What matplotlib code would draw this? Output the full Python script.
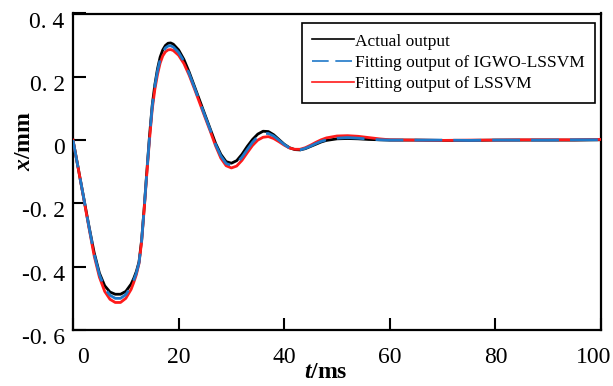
import matplotlib
matplotlib.use("Agg")
import matplotlib.pyplot as plt
from matplotlib.transforms import ScaledTranslation

plt.rcParams['font.family'] = ['Liberation Serif', 'DejaVu Serif']
plt.rcParams['mathtext.fontset'] = 'custom'
plt.rcParams['mathtext.rm'] = 'Liberation Serif'
plt.rcParams['mathtext.it'] = 'Liberation Serif:italic'
plt.rcParams['mathtext.bf'] = 'Liberation Serif:bold'
plt.rcParams['mathtext.bfit'] = 'Liberation Serif:bold:italic'

# ---- data ----
t = [0, 1, 2, 3, 4, 5, 6, 7, 8, 9, 10, 11, 11.5, 12, 12.5, 13, 13.5, 14, 14.5,
     15, 15.5, 16, 16.5, 17, 17.5, 18, 18.5, 19, 20, 21, 22, 23, 24, 25, 26, 27,
     28, 29, 30, 31, 32, 33, 34, 35, 36, 37, 38, 39, 40, 41, 42, 43, 44, 45, 46,
     47, 48, 50, 52, 54, 56, 58, 60, 65, 70, 75, 80, 85, 90, 95, 100]

actual = [0.0, -0.09, -0.18, -0.27, -0.355, -0.42, -0.46, -0.48, -0.487, -0.487,
          -0.478, -0.455, -0.437, -0.415, -0.385, -0.315, -0.21, -0.095, 0.015,
          0.11, 0.175, 0.225, 0.262, 0.285, 0.299, 0.306, 0.307, 0.303, 0.285,
          0.255, 0.215, 0.17, 0.125, 0.08, 0.035, -0.01, -0.045, -0.068, -0.073,
          -0.065, -0.045, -0.02, 0.002, 0.019, 0.028, 0.027, 0.017, 0.002, -0.013,
          -0.024, -0.03, -0.031, -0.027, -0.02, -0.013, -0.006, -0.001, 0.004,
          0.005, 0.004, 0.002, 0.001, 0.0, 0.0, -0.001, -0.001, 0.0, 0.0, 0.0,
          0.0, 0.001]

igwo = [0.0, -0.09, -0.18, -0.272, -0.36, -0.425, -0.468, -0.49, -0.5, -0.5,
        -0.488, -0.462, -0.443, -0.42, -0.388, -0.318, -0.212, -0.098, 0.01,
        0.105, 0.17, 0.218, 0.254, 0.277, 0.291, 0.297, 0.298, 0.294, 0.277,
        0.249, 0.21, 0.166, 0.121, 0.076, 0.032, -0.014, -0.05, -0.074, -0.08,
        -0.073, -0.054, -0.03, -0.007, 0.011, 0.02, 0.021, 0.013, 0.0, -0.014,
        -0.025, -0.031, -0.031, -0.026, -0.019, -0.011, -0.004, 0.001, 0.006,
        0.008, 0.006, 0.003, 0.001, 0.0, 0.0, 0.0, -0.001, 0.0, 0.0, 0.0, 0.001,
        0.001]

lssvm = [0.0, -0.09, -0.182, -0.275, -0.365, -0.433, -0.478, -0.503, -0.513,
         -0.513, -0.5, -0.472, -0.45, -0.425, -0.39, -0.32, -0.215, -0.103,
         0.003, 0.097, 0.16, 0.207, 0.243, 0.266, 0.279, 0.285, 0.286, 0.283,
         0.268, 0.242, 0.205, 0.162, 0.117, 0.072, 0.028, -0.018, -0.057,
         -0.081, -0.088, -0.082, -0.064, -0.04, -0.017, 0.0, 0.009, 0.011,
         0.005, -0.005, -0.016, -0.025, -0.029, -0.029, -0.024, -0.016, -0.007,
         0.001, 0.007, 0.013, 0.014, 0.012, 0.008, 0.004, 0.001, 0.0, -0.001,
         0.0, 0.0, 0.001, 0.001, 0.001, 0.002]

xticks = [0, 20, 40, 60, 80, 100]
xticklabels = ['0', '20', '40', '60', '80', '100']
yticks = [-0.6, -0.4, -0.2, 0.0, 0.2, 0.4]
yticklabels = ['-0. 6', '-0. 4', '-0. 2', '0', '0. 2', '0. 4']

labels = ['Actual output', 'Fitting output of IGWO-LSSVM', 'Fitting output of LSSVM']

# ---- figure ----
fig = plt.figure(figsize=(6.13, 3.86), dpi=100)
ax = fig.add_axes([73/613, 56/386, 528/613, 316.5/386])

l1, = ax.plot(t, actual, color='black', lw=2.0, label=labels[0], zorder=2)
l3, = ax.plot(t, lssvm, color='#FF1A1A', lw=2.0, label=labels[2], zorder=3)
l2, = ax.plot(t, igwo, color='#1F78C8', lw=2.0, dashes=[10, 4], label=labels[1], zorder=4)

ax.set_xlim(0, 100)
ax.set_ylim(-0.6, 0.4)
ax.set_xticks(xticks)
ax.set_xticklabels(xticklabels)
ax.set_yticks(yticks)
ax.set_yticklabels(yticklabels)

ax.tick_params(direction='in', length=9, width=1.5, labelsize=17)
ax.tick_params(axis='x', pad=12)
ax.tick_params(axis='y', pad=6)
for sp in ax.spines.values():
    sp.set_linewidth(1.6)

# shift tick labels slightly as in reference
off_y = ScaledTranslation(0, -6/100, fig.dpi_scale_trans)
for lab in ax.get_yticklabels():
    lab.set_transform(lab.get_transform() + off_y)
xl = ax.get_xticklabels()
xl[0].set_transform(xl[0].get_transform() + ScaledTranslation(10/100, 0, fig.dpi_scale_trans))
xl[-1].set_transform(xl[-1].get_transform() + ScaledTranslation(-7/100, 0, fig.dpi_scale_trans))

ax.set_xlabel(r'$\mathbfit{t}$/ms', fontsize=17, fontweight='bold')
ax.xaxis.set_label_coords((326-73)/528, -(373-330)/316.5)
ax.xaxis.label.set_va('center')
ax.set_ylabel(r'$\mathbfit{x}$/mm', fontsize=17, fontweight='bold')
ax.yaxis.set_label_coords(-(73-24)/528, (330-141)/316.5)
ax.yaxis.label.set_va('center')

leg = ax.legend(handles=[l1, l2, l3], labels=labels, loc='upper right',
                bbox_to_anchor=((595-73)/528, (330-23)/316.5),
                fontsize=12.5, frameon=True, fancybox=False, framealpha=1,
                edgecolor='black', handlelength=2.4, handletextpad=0.05,
                labelspacing=0.3, borderpad=0.6, borderaxespad=0)
leg.get_frame().set_linewidth(1.2)
for ln in leg.get_lines():
    ln.set_linewidth(1.2)

fig.savefig('out.png', dpi=100)
